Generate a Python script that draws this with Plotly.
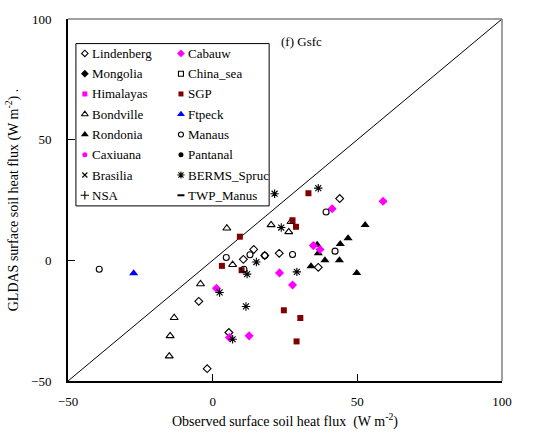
import plotly.graph_objects as go

# Observed vs GLDAS surface soil heat flux (W m-2), one pair of lists per site
lindenberg_obs = [43.9, 36.5, 14.2, 10.6, 23.0, 18.0, 5.6, -4.8, -1.9]
lindenberg_gldas = [25.6, -2.9, 4.5, 0.4, 2.9, 2.0, -29.9, -17.0, -44.9]

cabauw_obs = [58.9, 41.3, 34.8, 37.1, 23.1, 27.6, 12.6, 5.8, 1.3]
cabauw_gldas = [24.5, 21.4, 6.1, 4.5, -5.2, -10.2, -31.3, -32.0, -11.6]

mongolia_obs, mongolia_gldas = [], []
china_sea_obs, china_sea_gldas = [], []
himalayas_obs, himalayas_gldas = [], []

sgp_obs = [33.1, 27.6, 28.8, 9.4, 3.2, 10.0, 24.6, 30.3, 29.0]
sgp_gldas = [27.8, 16.6, 13.9, 9.8, -2.3, -4.1, -20.7, -23.9, -33.6]

bondville_obs = [4.9, 20.2, 27.1, 26.3, 6.9, -4.2, -13.3, -14.7, -15.0]
bondville_gldas = [13.3, 14.7, 16.0, 11.8, -1.8, -9.8, -23.8, -31.3, -39.7]

ftpeck_obs = [-27.3]
ftpeck_gldas = [-5.4]

rondonia_obs = [52.7, 46.8, 44.1, 36.1, 36.5, 38.8, 43.8, 34.0, 49.8]
rondonia_gldas = [14.6, 9.1, 6.8, 6.5, 2.9, 0.0, 0.0, -2.4, -5.2]

manaus_obs = [-39.2, 4.7, 27.6, 42.3, 10.8, 39.2, 12.9, 18.0]
manaus_gldas = [-3.7, 1.2, 2.4, 3.8, -3.7, 20.0, 2.3, 2.0]

caxiuana_obs, caxiuana_gldas = [], []
pantanal_obs, pantanal_gldas = [], []
brasilia_obs, brasilia_gldas = [], []

berms_obs = [36.5, 21.4, 23.7, 15.1, 11.9, 29.1, 2.4, 11.5, 6.9]
berms_gldas = [29.9, 27.6, 13.6, -0.7, -5.7, -4.8, -13.3, -19.1, -32.7]

nsa_obs, nsa_gldas = [], []
twp_manus_obs, twp_manus_gldas = [], []

one_to_one = [-50, 100]
x_ticks = [-50, 0, 50, 100]
y_ticks = [-50, 0, 50, 100]

SERIF = "Liberation Serif, Times New Roman, serif"
MAGENTA = "#FF00FF"
DARKRED = "#800000"

# (name, obs, gldas, symbol, fill colour, size, legend column)
sites = [
    ("Lindenberg", lindenberg_obs, lindenberg_gldas, "diamond-open", "black", 6, 0),
    ("Mongolia", mongolia_obs, mongolia_gldas, "diamond", "black", 7, 0),
    ("Himalayas", himalayas_obs, himalayas_gldas, "square", MAGENTA, 6, 0),
    ("Bondville", bondville_obs, bondville_gldas, "triangle-up-open", "black", 7, 0),
    ("Rondonia", rondonia_obs, rondonia_gldas, "triangle-up", "black", 8, 0),
    ("Caxiuana", caxiuana_obs, caxiuana_gldas, "circle", MAGENTA, 6, 0),
    ("Brasilia", brasilia_obs, brasilia_gldas, "x-thin-open", "black", 6, 0),
    ("NSA", nsa_obs, nsa_gldas, "cross-thin-open", "black", 7, 0),
    ("Cabauw", cabauw_obs, cabauw_gldas, "diamond", MAGENTA, 7, 1),
    ("China_sea", china_sea_obs, china_sea_gldas, "square-open", "black", 6, 1),
    ("SGP", sgp_obs, sgp_gldas, "square", DARKRED, 6, 1),
    ("Ftpeck", ftpeck_obs, ftpeck_gldas, "triangle-up", "#0000FF", 8, 1),
    ("Manaus", manaus_obs, manaus_gldas, "circle-open", "black", 6, 1),
    ("Pantanal", pantanal_obs, pantanal_gldas, "circle", "black", 6, 1),
    ("BERMS_Spruc", berms_obs, berms_gldas, "asterisk-open", "black", 7, 1),
    ("TWP_Manus", twp_manus_obs, twp_manus_gldas, "line-ew-open", "black", 6, 1),
]


def marker_style(symbol, color, size):
    if symbol.endswith("-open"):
        width = 2 if symbol.startswith("line") else 1.1
        return dict(symbol=symbol, size=size, color="black",
                    line=dict(color="black", width=width))
    return dict(symbol=symbol, size=size, color=color, line=dict(width=0))


fig = go.Figure()

# 1:1 reference line
fig.add_trace(go.Scatter(x=one_to_one, y=one_to_one, mode="lines",
                         line=dict(color="black", width=1), showlegend=False,
                         hoverinfo="skip"))

for name, xs, ys, sym, col, size, _ in sites:
    if xs:
        fig.add_trace(go.Scatter(x=xs, y=ys, mode="markers", name=name,
                                 marker=marker_style(sym, col, size),
                                 showlegend=False))

# Legend drawn on an overlay axis measured in pixels of the plotting area
L, R, T, B = 64, 502, 15, 383
col_marker_x = [81, 178]
row_y0, row_step = 50, 20.6
counts = [0, 0]
for name, xs, ys, sym, col, size, c in sites:
    i = counts[c]
    counts[c] += 1
    yy = row_y0 + i * row_step
    fig.add_trace(go.Scatter(x=[col_marker_x[c]], y=[yy], mode="markers",
                             marker=marker_style(sym, col, size - 1),
                             xaxis="x2", yaxis="y2", showlegend=False,
                             hoverinfo="skip"))
    fig.add_annotation(x=col_marker_x[c] + 5, y=yy, xref="x2", yref="y2",
                       text=name, showarrow=False, xanchor="left",
                       yanchor="middle",
                       font=dict(family=SERIF, size=13, color="black"))

fig.add_shape(type="rect", xref="x2", yref="y2", x0=72, x1=267, y0=40, y1=205,
              line=dict(color="black", width=1), fillcolor="rgba(0,0,0,0)")

# gray frame on top / right
fig.add_shape(type="line", xref="paper", yref="paper", x0=0, x1=1, y0=1, y1=1,
              line=dict(color="#808080", width=1.5))
fig.add_shape(type="line", xref="paper", yref="paper", x0=1, x1=1, y0=0, y1=1,
              line=dict(color="#808080", width=1.5))

fig.add_annotation(x=300, y=38, xref="x2", yref="y2", text="(f) Gsfc",
                   showarrow=False, xanchor="center", yanchor="middle",
                   font=dict(family=SERIF, size=13, color="black"))

axis_common = dict(showgrid=False, zeroline=False, showline=True,
                   linecolor="black", ticks="inside",
                   ticklen=7, tickcolor="black", tickwidth=1,
                   tickfont=dict(family=SERIF, size=13, color="black"),
                   mirror=False)

fig.update_layout(
    width=536, height=439,
    margin=dict(l=L, r=536 - R, t=T, b=439 - B),
    paper_bgcolor="white", plot_bgcolor="white",
    showlegend=False,
    xaxis=dict(range=[-50, 100], tickvals=x_ticks, ticklabelstandoff=8,
               linewidth=1.5,
               title=dict(text="Observed surface soil heat flux  (W m<sup>-2</sup>)",
                          font=dict(family=SERIF, size=14, color="black"),
                          standoff=8),
               **axis_common),
    yaxis=dict(range=[-50, 100], tickvals=y_ticks, ticklabelstandoff=12,
               linewidth=2,
               title=dict(text="GLDAS surface soil heat flux (W m<sup>-2</sup>) .",
                          font=dict(family=SERIF, size=14, color="black"),
                          standoff=9),
               **axis_common),
    xaxis2=dict(range=[L, R], overlaying="x", visible=False, fixedrange=True),
    yaxis2=dict(range=[B, T], overlaying="y", visible=False, fixedrange=True),
)

fig.write_html("out.html")
